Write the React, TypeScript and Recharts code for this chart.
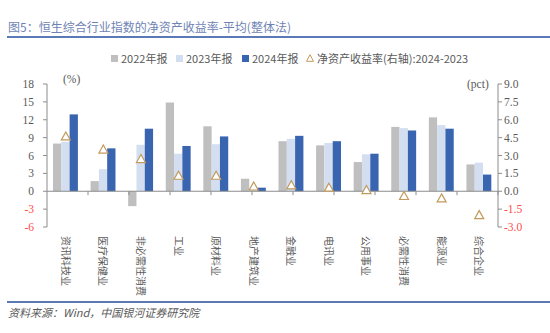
import { ComposedChart, Bar, Line, XAxis, YAxis, ReferenceLine } from "recharts"

const categories = ["资讯科技业", "医疗保健业", "非必需性消费", "工业", "原材料业", "地产建筑业", "金融业", "电讯业", "公用事业", "必需性消费", "能源业", "综合企业"]
const roe2022 = [8.0, 1.7, -2.5, 14.9, 10.9, 2.1, 8.4, 7.7, 4.9, 10.8, 12.4, 4.5]
const roe2023 = [8.3, 3.7, 7.8, 6.3, 7.9, 0.2, 8.8, 8.1, 6.2, 10.6, 11.1, 4.8]
const roe2024 = [12.9, 7.2, 10.5, 7.6, 9.2, 0.6, 9.3, 8.4, 6.3, 10.2, 10.5, 2.8]
const roeChange = [4.6, 3.5, 2.7, 1.3, 1.3, 0.4, 0.5, 0.3, 0.1, -0.4, -0.6, -2.0]
const leftTicks = [-6, -3, 0, 3, 6, 9, 12, 15, 18]
const rightTicks = [-3, -1.5, 0, 1.5, 3, 4.5, 6, 7.5, 9]
const boundaries = [1, 2, 3, 4, 5, 6, 7, 8, 9, 10, 11]

const data = categories.map((name, i) => ({
  name,
  y2022: roe2022[i],
  y2023: roe2023[i],
  y2024: roe2024[i],
  change: roeChange[i],
}))

const GRAY = "#BFBFBF"
const LIGHT = "#D3DFF1"
const BLUE = "#3864B0"
const TRI = "#C29A5C"
const AXIS = "#8C8C8C"
const TEXT = "#595959"
const NEG = "#FF4B4B"
const SERIF = "'Times New Roman', 'Liberation Serif', 'Noto Sans CJK SC', serif"
const CJK = "'Noto Sans CJK SC', sans-serif"

function LeftTick({ x, y, payload }: any) {
  const v = payload.value
  return (
    <text x={x} y={y} dy={4} textAnchor="end" fontSize={11.5} fontFamily={SERIF} fill={v < 0 ? NEG : TEXT}>
      {v}
    </text>
  )
}

function RightTick({ x, y, payload }: any) {
  const v = payload.value
  return (
    <text x={x} y={y} dy={4} textAnchor="start" fontSize={11.5} fontFamily={SERIF} fill={v < 0 ? NEG : TEXT}>
      {v.toFixed(1)}
    </text>
  )
}

function CategoryTick({ x, y, payload }: any) {
  return (
    <text transform={`translate(${x},${y}) rotate(90)`} dy={4} textAnchor="start" fontSize={10} fontFamily={CJK} fill={TEXT}>
      {payload.value}
    </text>
  )
}

function Triangle({ cx, cy }: any) {
  if (cx == null || cy == null) return null
  return <path d={`M${cx},${cy - 4.5} L${cx + 4.5},${cy + 3.5} L${cx - 4.5},${cy + 3.5} Z`} fill="#fff" stroke={TRI} strokeWidth={1.2} />
}

function LegendItem({ left, color, label, tri }: { left: number; color: string; label: string; tri?: boolean }) {
  return (
    <div style={{ position: "absolute", left, top: 51, height: 14, display: "flex", alignItems: "center", fontSize: 11, color: TEXT, fontFamily: CJK, whiteSpace: "nowrap" }}>
      {tri ? (
        <svg width={8} height={8} style={{ marginRight: 3 }}>
          <path d="M4,0.7 L7.5,7.3 L0.5,7.3 Z" fill="#fff" stroke={TRI} strokeWidth={1} />
        </svg>
      ) : (
        <span style={{ display: "inline-block", width: 7, height: 7, background: color, marginRight: 3 }} />
      )}
      {label}
    </div>
  )
}

export default function App() {
  return (
    <div style={{ position: "absolute", left: 0, top: 0, width: 550, height: 333, background: "#fff", overflow: "hidden" }}>
      <ComposedChart width={550} height={333} data={data} margin={{ top: 84, right: 0, bottom: 0, left: 0 }} barSize={8.3} barGap={0}>
        <XAxis dataKey="name" height={106} axisLine={false} tickLine={false} tickSize={0} tickMargin={9} interval={0} tick={<CategoryTick />} />
        <XAxis xAxisId="grid" type="number" domain={[0, 12]} hide />
        <YAxis yAxisId="left" width={47} domain={[-6, 18]} ticks={leftTicks} interval={0} stroke={AXIS} tickSize={4} tickMargin={9} tick={<LeftTick />} />
        <YAxis yAxisId="right" orientation="right" width={52} domain={[-3, 9]} ticks={rightTicks} interval={0} stroke={AXIS} tickSize={4} tickMargin={2} tick={<RightTick />} />
        <Bar yAxisId="left" dataKey="y2022" fill={GRAY} isAnimationActive={false} />
        <Bar yAxisId="left" dataKey="y2023" fill={LIGHT} isAnimationActive={false} />
        <Bar yAxisId="left" dataKey="y2024" fill={BLUE} isAnimationActive={false} />
        <ReferenceLine yAxisId="left" y={0} stroke={AXIS} strokeWidth={1.2} />
        {boundaries.map((b) => (
          <ReferenceLine key={b} xAxisId="grid" yAxisId="left" segment={[{ x: b, y: 0 }, { x: b, y: -0.65 }]} stroke={AXIS} />
        ))}
        <Line yAxisId="right" dataKey="change" stroke="none" dot={<Triangle />} activeDot={false} isAnimationActive={false} />
      </ComposedChart>

      <div style={{ position: "absolute", left: 8, top: 19, fontSize: 12, lineHeight: "15px", color: "#6E83B4", fontFamily: CJK, whiteSpace: "nowrap" }}>
        图5：恒生综合行业指数的净资产收益率-平均(整体法)
      </div>
      <div style={{ position: "absolute", left: 7, right: 0, top: 36, height: 2, background: "#5A79B6" }} />

      <LegendItem left={111} color={GRAY} label="2022年报" />
      <LegendItem left={176} color={LIGHT} label="2023年报" />
      <LegendItem left={242} color={BLUE} label="2024年报" />
      <LegendItem left={306} color={TRI} label="净资产收益率(右轴):2024-2023" tri />

      <div style={{ position: "absolute", left: 63, top: 73, fontSize: 11.5, color: TEXT, fontFamily: SERIF }}>(%)</div>
      <div style={{ position: "absolute", left: 467, top: 78, fontSize: 11.5, color: TEXT, fontFamily: SERIF }}>(pct)</div>

      <div style={{ position: "absolute", left: 7, right: 0, top: 301, height: 2, background: "#5A79B6" }} />
      <div style={{ position: "absolute", left: 8, top: 305, fontSize: 11, lineHeight: "15px", color: TEXT, fontFamily: CJK, fontStyle: "italic", whiteSpace: "nowrap" }}>
        资料来源：Wind，中国银河证券研究院
      </div>
    </div>
  )
}
